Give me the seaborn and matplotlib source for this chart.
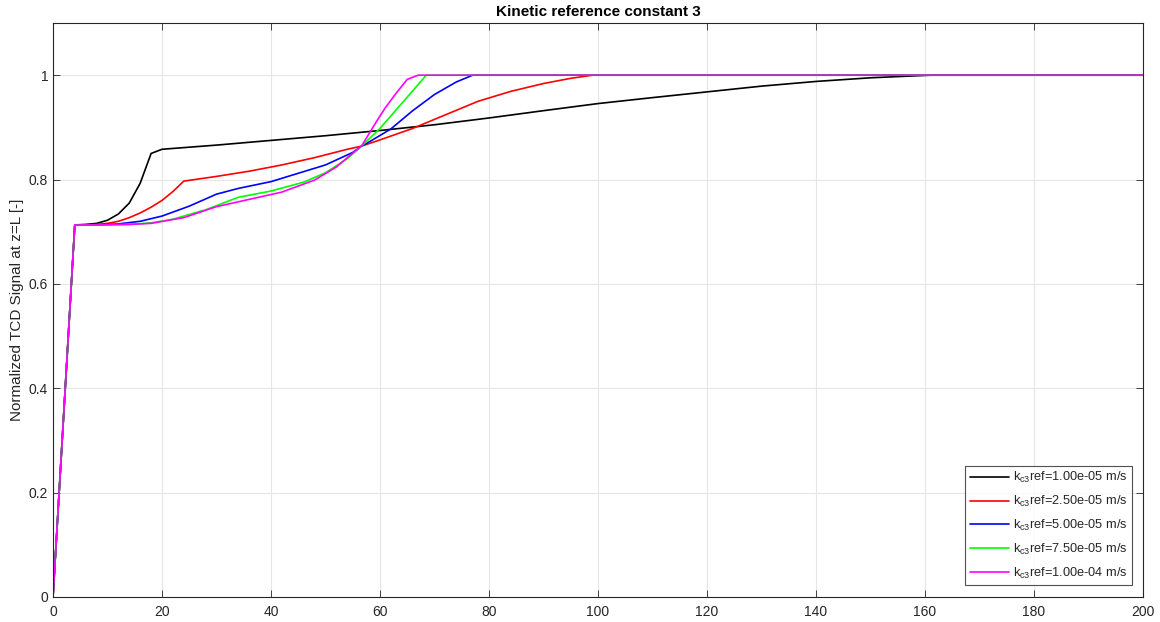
import numpy as np
import pandas as pd
import matplotlib
matplotlib.use("Agg")
import matplotlib.pyplot as plt
import seaborn as sns

# ---- data ----
labels = [
    r"$\mathregular{k_{c3}}$ref=1.00e-05 m/s",
    r"$\mathregular{k_{c3}}$ref=2.50e-05 m/s",
    r"$\mathregular{k_{c3}}$ref=5.00e-05 m/s",
    r"$\mathregular{k_{c3}}$ref=7.50e-05 m/s",
    r"$\mathregular{k_{c3}}$ref=1.00e-04 m/s",
]
colors = ["#000000", "#FF0000", "#0000FF", "#00FF00", "#FF00FF"]

x_k1 = [0, 4, 6, 8, 10, 12, 14, 16, 18, 20, 30, 40, 50, 60, 70, 80, 90, 100, 110, 120, 130, 140, 150, 161, 200]
y_k1 = [0, 0.713, 0.714, 0.716, 0.722, 0.734, 0.755, 0.793, 0.850, 0.858, 0.866, 0.875, 0.884, 0.894, 0.905,
        0.918, 0.932, 0.9456, 0.957, 0.968, 0.979, 0.988, 0.995, 1.0, 1.0]

x_k2 = [0, 4, 6, 8, 10, 12, 14, 16, 18, 20, 22, 24, 26, 30, 36, 42, 48, 54, 56.6, 60, 66, 72, 78, 84, 90, 95, 99, 200]
y_k2 = [0, 0.713, 0.713, 0.714, 0.716, 0.720, 0.727, 0.736, 0.747, 0.760, 0.777, 0.797, 0.800, 0.806, 0.816,
        0.828, 0.842, 0.858, 0.864, 0.876, 0.898, 0.924, 0.950, 0.969, 0.984, 0.994, 1.0, 1.0]

x_k3 = [0, 4, 8, 12, 16, 20, 25, 30, 34, 40, 45, 50, 55, 56.6, 58, 62, 66, 70, 74, 77, 200]
y_k3 = [0, 0.713, 0.713, 0.715, 0.720, 0.730, 0.749, 0.772, 0.783, 0.796, 0.812, 0.828, 0.852, 0.864, 0.872,
        0.897, 0.932, 0.963, 0.987, 1.0, 1.0]

x_k4 = [0, 4, 8, 14, 18, 22, 28, 34, 40, 46, 50, 54, 56.6, 60, 64, 68.5, 200]
y_k4 = [0, 0.713, 0.713, 0.714, 0.717, 0.724, 0.742, 0.766, 0.778, 0.795, 0.813, 0.840, 0.864, 0.898, 0.946,
        1.0, 1.0]

x_k5 = [0, 4, 8, 14, 18, 24, 30, 36, 42, 48, 52, 54, 56.6, 59.4, 61, 63, 65, 67, 200]
y_k5 = [0, 0.713, 0.713, 0.714, 0.716, 0.727, 0.748, 0.762, 0.776, 0.799, 0.824, 0.842, 0.864, 0.912, 0.938,
        0.966, 0.992, 1.0, 1.0]

xs = [x_k1, x_k2, x_k3, x_k4, x_k5]
ys = [y_k1, y_k2, y_k3, y_k4, y_k5]

frames = []
for lab, x, y in zip(labels, xs, ys):
    frames.append(pd.DataFrame({"t": x, "s": y, "series": lab}))
df = pd.concat(frames, ignore_index=True)

# ---- style ----
sns.set_theme(style="white")
plt.rcParams["font.family"] = ["Liberation Sans", "DejaVu Sans"]
plt.rcParams["mathtext.fontset"] = "custom"
plt.rcParams["mathtext.rm"] = "Liberation Sans"

fig = plt.figure(figsize=(11.6, 6.22), dpi=100)
ax = fig.add_axes([53 / 1160, 1 - 597 / 622, (1143 - 53) / 1160, (597 - 23) / 622])

sns.lineplot(data=df, x="t", y="s", hue="series", palette=dict(zip(labels, colors)),
             hue_order=labels, sort=False, estimator=None, linewidth=1.2, ax=ax)

ax.set_xlim(0, 200)
ax.set_ylim(0, 1.1)
ax.set_xticks(np.arange(0, 201, 20))
ax.set_yticks([0, 0.2, 0.4, 0.6, 0.8, 1.0])
ax.set_yticklabels(["0", "0.2", "0.4", "0.6", "0.8", "1"])
ax.grid(True, color="#E6E6E6", linewidth=0.8)
ax.set_axisbelow(True)
for sp in ax.spines.values():
    sp.set_color("#262626")
    sp.set_linewidth(0.8)
    sp.set_visible(True)
ax.tick_params(direction="in", length=5, width=0.6, colors="#262626", labelsize=10,
               top=True, right=True, bottom=True, left=True, labelcolor="#262626")
ax.tick_params(axis="x", pad=6)
ax.set_xlabel("")
ax.set_ylabel("Normalized TCD Signal at z=L [-]", fontsize=11, color="#262626")
ax.yaxis.set_label_coords(-29 / 1090, 0.5)
ax.set_title("Kinetic reference constant 3", fontsize=11, fontweight="bold", color="black", pad=5)

leg = ax.legend(loc="lower right", fontsize=9.2, frameon=True, fancybox=False, handlelength=3.1,
                borderaxespad=0.0, bbox_to_anchor=(1 - 11 / 1090, 12 / 574),
                labelspacing=0.68, handletextpad=0.3, borderpad=0.35)
leg.get_frame().set_edgecolor("#262626")
leg.get_frame().set_linewidth(0.8)

fig.savefig("out.png", dpi=100)
